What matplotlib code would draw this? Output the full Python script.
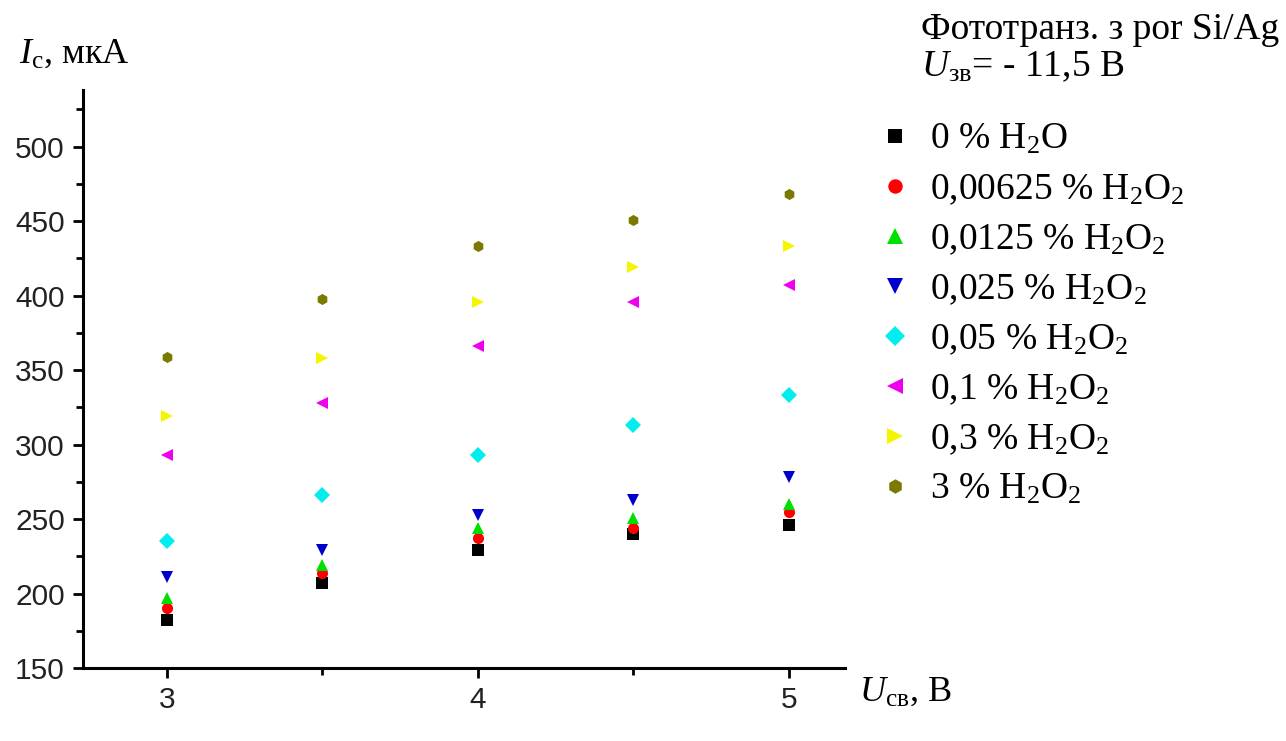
import matplotlib
matplotlib.use("Agg")
import matplotlib.pyplot as plt
from matplotlib.ticker import MultipleLocator

plt.rcParams['mathtext.fontset'] = 'custom'
plt.rcParams['mathtext.rm'] = 'Liberation Serif'
plt.rcParams['mathtext.it'] = 'Liberation Serif:italic'
plt.rcParams['mathtext.bf'] = 'Liberation Serif:bold'

x_vals = [3.0, 3.5, 4.0, 4.5, 5.0]
labels = ["0 % H$_2$O",
          "0,00625 % H$_2$O$_2$",
          "0,0125 % H$_2$O$_2$",
          "0,025 % H$_2$O$_2$",
          "0,05 % H$_2$O$_2$",
          "0,1 % H$_2$O$_2$",
          "0,3 % H$_2$O$_2$",
          "3 % H$_2$O$_2$"]
s_0 = [182, 207, 229, 240, 246]
s_000625 = [190, 214, 237, 244, 255]
s_00125 = [197, 219, 244, 251, 260]
s_0025 = [211, 229, 253, 263, 278]
s_005 = [235, 266, 293, 313, 333]
s_01 = [293, 328, 366, 396, 407]
s_03 = [319, 358, 396, 419, 433]
s_3 = [359, 398, 433, 451, 468]
series = [s_0, s_000625, s_00125, s_0025, s_005, s_01, s_03, s_3]
colors = ['#000000', '#ff0000', '#00e000', '#0000cc', '#00eeee', '#ee00ee', '#f5f500', '#7a7a00']
markers = ['s', 'o', '^', 'v', 'D', '<', '>', 'h']
sizes = [8, 8, 9, 9, 8, 9, 9, 8]

fig = plt.figure(figsize=(12.86, 7.41), dpi=100)
ax = fig.add_axes([0.0645, 0.0985, 0.5925, 0.78])

handles = []
for ys, c, m, ms, lab in zip(series, colors, markers, sizes, labels):
    h, = ax.plot(x_vals, ys, linestyle='none', marker=m, color=c, markersize=ms,
                 markeredgewidth=0, label=lab)
    handles.append(h)

ax.set_xlim(2.73, 5.18)
ax.set_ylim(150, 538)
ax.xaxis.set_major_locator(MultipleLocator(1))
ax.xaxis.set_minor_locator(MultipleLocator(0.5))
ax.yaxis.set_major_locator(MultipleLocator(50))
ax.yaxis.set_minor_locator(MultipleLocator(25))
for s in ['top', 'right']:
    ax.spines[s].set_visible(False)
for s in ['left', 'bottom']:
    ax.spines[s].set_linewidth(2.2)
ax.tick_params(which='major', direction='out', length=7, width=2, labelsize=21.5, pad=6)
ax.tick_params(which='minor', direction='out', length=5, width=2)
for lbl in ax.get_xticklabels() + ax.get_yticklabels():
    lbl.set_fontfamily('Liberation Sans')
    lbl.set_color('#222222')

serif = 'Liberation Serif'
fig.text(0.015, 0.915, r"$\mathit{I}_{\mathrm{с}}$, мкА", fontsize=26, family=serif, va='baseline')
fig.text(0.668, 0.055, r"$\mathit{U}_{\mathrm{св}}$, В", fontsize=26, family=serif, va='baseline')
fig.text(0.716, 0.948, "Фототранз. з por Si/Ag", fontsize=27, family=serif, va='baseline')
fig.text(0.716, 0.897, r"$\mathit{U}_{\mathrm{зв}}$= - 11,5 В", fontsize=27, family=serif, va='baseline')

leg = fig.legend(handles=handles, loc='upper left', bbox_to_anchor=(0.668, 0.86),
                 frameon=False, prop={'family': serif, 'size': 27},
                 handletextpad=0.5, labelspacing=0.41, borderpad=0, handlelength=0.9,
                 markerscale=1.3)

fig.savefig('out.png', dpi=100)
